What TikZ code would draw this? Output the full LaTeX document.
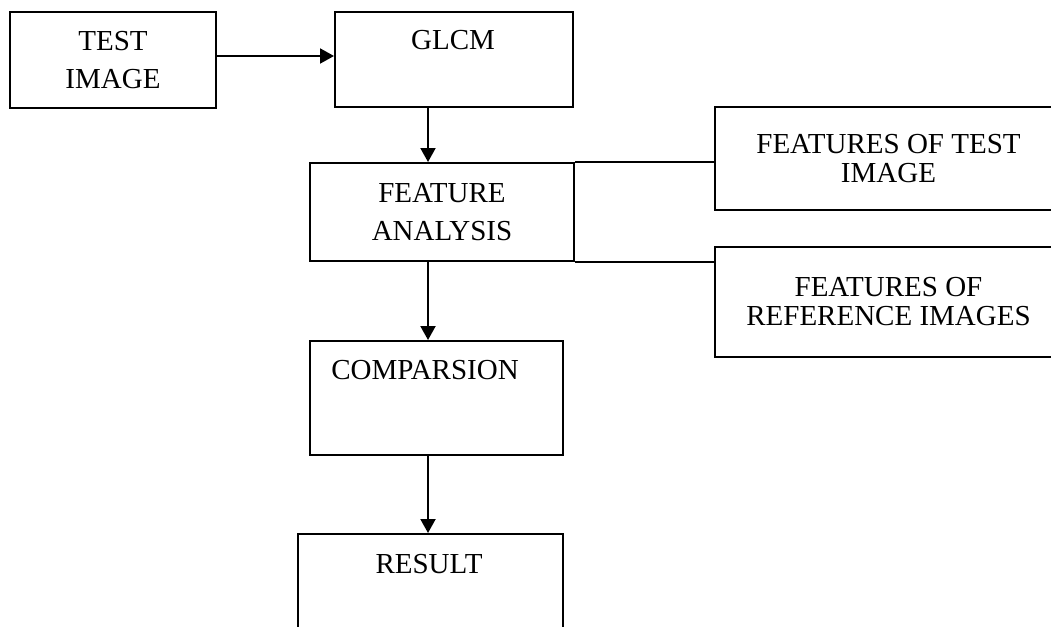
\documentclass[tikz,border=0pt]{standalone}
\usepackage{fontspec}
\setmainfont{Liberation Serif}
\usetikzlibrary{arrows.meta}
\tikzset{
  box/.style={draw, line width=2pt, inner sep=0pt, anchor=north west},
  lbl/.style={font=\fontsize{29}{38}\selectfont, align=center, inner sep=0pt},
  lblb/.style={font=\fontsize{29}{29}\selectfont, align=center, inner sep=0pt},
  arr/.style={line width=2pt, -{Triangle[length=14pt,width=15pt]}},
  ln/.style={line width=2pt}
}
\begin{document}
\begin{tikzpicture}[x=1pt,y=-1pt]
\useasboundingbox (0,0) rectangle (1051,626);
\clip (0,0) rectangle (1051,626);
\node[box, lbl, minimum width=206pt, minimum height=96pt] (test) at (9,11) {TEST\\IMAGE};
\node[box, minimum width=238pt, minimum height=95pt] (glcm) at (334,11) {};
\node[lbl, anchor=base] (glcmtxt) at (453,50) {GLCM};
\node[box, lbl, minimum width=264pt, minimum height=98pt] (fa) at (309,162) {FEATURE\\ANALYSIS};
\node[box, lblb, minimum width=347pt, minimum height=103pt] (ftest) at (714,106) {FEATURES OF TEST\\IMAGE};
\node[box, lblb, minimum width=347pt, minimum height=110pt] (fref) at (714,246) {FEATURES OF\\REFERENCE IMAGES};
\node[box, minimum width=253pt, minimum height=114pt] (comp) at (309,340) {};
\node[lbl, anchor=base] (comptxt) at (425,379) {COMPARSION};
\node[box, minimum width=265pt, minimum height=130pt] (res) at (297,533) {};
\node[lbl, anchor=base] (restxt) at (429,573) {RESULT};
\draw[arr] ([yshift=4pt]test.east) -- ([yshift=4pt]test.east -| glcm.west);
\draw[arr] ([xshift=-26pt]glcm.south) -- ([xshift=-26pt]glcm.south |- fa.north);
\draw[ln] (fa.north east) -- (fa.north east -| ftest.west);
\draw[ln] (fa.south east) -- (fa.south east -| fref.west);
\draw[arr] ([xshift=-14pt]fa.south) -- ([xshift=-14pt]fa.south |- comp.north);
\draw[arr] ([xshift=-8.5pt]comp.south) -- ([xshift=-8.5pt]comp.south |- res.north);
\end{tikzpicture}
\end{document}
